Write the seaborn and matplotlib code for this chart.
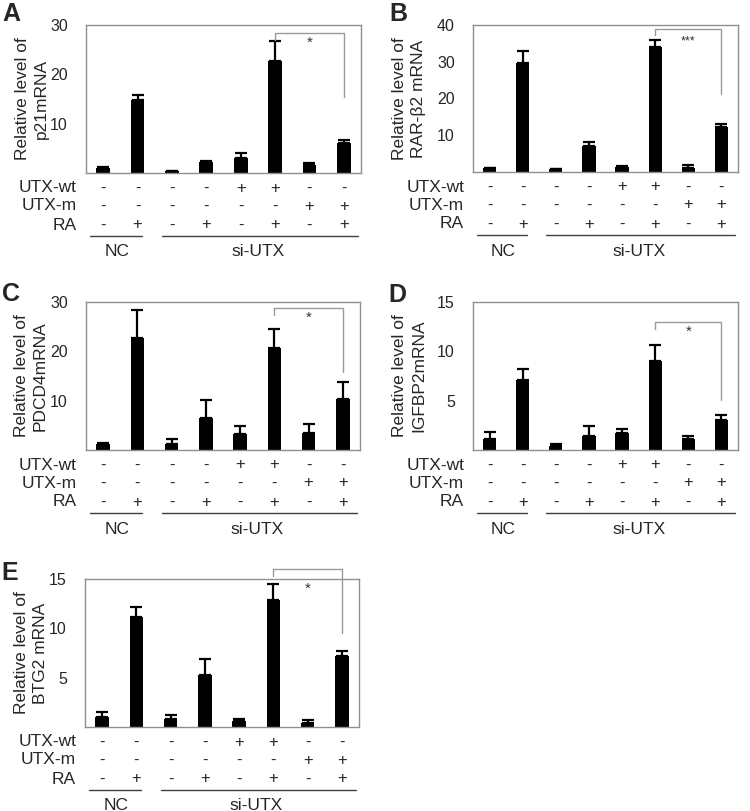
import matplotlib

matplotlib.use("Agg")
import matplotlib.pyplot as plt
import numpy as np
import pandas as pd
import seaborn as sns

# Conditions (8 bars per panel)
conditions = ["NC", "NC+RA", "si", "si+RA", "wt", "wt+RA", "m", "m+RA"]
utx_wt = ["-", "-", "-", "-", "+", "+", "-", "-"]
utx_m = ["-", "-", "-", "-", "-", "-", "+", "+"]
ra = ["-", "+", "-", "+", "-", "+", "-", "+"]

# Panel A: p21
p21_mean = [1.0, 14.8, 0.4, 2.3, 3.1, 22.8, 1.7, 6.1]
p21_err = [0.3, 1.0, 0.1, 0.2, 0.9, 4.0, 0.3, 0.5]
# Panel B: RAR-beta2
rarb2_mean = [1.0, 29.7, 0.8, 7.1, 1.3, 34.1, 1.2, 12.2]
rarb2_err = [0.2, 3.3, 0.1, 1.1, 0.2, 1.8, 0.6, 0.9]
# Panel C: PDCD4
pdcd4_mean = [1.2, 22.8, 1.2, 6.4, 3.3, 20.6, 3.5, 10.3]
pdcd4_err = [0.3, 5.6, 1.1, 3.8, 1.6, 3.9, 1.7, 3.4]
# Panel D: IGFBP2
igfbp2_mean = [1.1, 7.1, 0.45, 1.45, 1.7, 9.0, 1.1, 3.0]
igfbp2_err = [0.7, 1.1, 0.2, 0.95, 0.4, 1.6, 0.35, 0.5]
# Panel E: BTG2
btg2_mean = [1.05, 11.1, 0.8, 5.3, 0.6, 12.9, 0.45, 7.2]
btg2_err = [0.45, 1.1, 0.45, 1.6, 0.2, 1.6, 0.25, 0.5]

# significance brackets: (top, left end, right end, star y)
p21_sig = (28.45, 27.0, 15.4, 26.4)
rarb2_sig = (39.0, 37.3, 21.2, 35.5)
pdcd4_sig = (28.8, 27.4, 15.9, 26.8)
igfbp2_sig = (13.0, 12.3, 5.1, 12.0)
btg2_sig = (16.0, 15.3, 9.5, 14.0)

W, H = 750, 811

sns.set_style("white")
plt.rcParams["font.family"] = ["Liberation Sans", "DejaVu Sans"]

fig = plt.figure(figsize=(W / 100, H / 100), dpi=100)

panels = [
    # letter, mean, err, sig, ylabel, ymax, ticks, (l, r, t, b) px, letter xy px, ylabel offset px, stars
    ("A", p21_mean, p21_err, p21_sig, "Relative level of\np21mRNA", 30, [10, 20, 30],
     (86, 361, 25, 173), (2, 14), -37, "*"),
    ("B", rarb2_mean, rarb2_err, rarb2_sig, "Relative level of\nRAR-β2 mRNA", 40, [10, 20, 30, 40],
     (473, 738, 25, 172), (389, 14), -47, "***"),
    ("C", pdcd4_mean, pdcd4_err, pdcd4_sig, "Relative level of\nPDCD4mRNA", 30, [10, 20, 30],
     (86, 360, 302, 450), (2, 294), -38, "*"),
    ("D", igfbp2_mean, igfbp2_err, igfbp2_sig, "Relative level of\nIGFBP2mRNA", 15, [5, 10, 15],
     (473, 738, 302, 450), (388, 295), -47, "*"),
    ("E", btg2_mean, btg2_err, btg2_sig, "Relative level of\nBTG2 mRNA", 15, [5, 10, 15],
     (85, 359, 579, 727), (1, 573), -37, "*"),
]

for letter, mean, err, sig, ylabel, ymax, ticks, box, lxy, ylo, stars in panels:
    l, r, t, b = box
    ax = fig.add_axes([l / W, 1 - b / H, (r - l) / W, (b - t) / H])
    df = pd.DataFrame({"cond": conditions, "value": mean})
    sns.barplot(data=df, x="cond", y="value", color="black", saturation=1,
                width=0.4, errorbar=None, ax=ax, zorder=2,
                edgecolor="black", linewidth=0)
    x = np.arange(len(mean))
    ax.errorbar(x, mean, yerr=[np.zeros(len(err)), err], fmt="none", ecolor="black",
                elinewidth=1.6, capsize=4, capthick=1.6, zorder=1)
    ax.set_xlim(-0.5, 7.5)
    ax.set_ylim(0, ymax)
    ax.set_yticks(ticks)
    ax.set_yticklabels([str(v) for v in ticks], fontsize=11.5)
    ax.tick_params(axis="y", length=0, pad=13)
    ax.set_xticks([])
    ax.set_xlabel("")
    for s in ax.spines.values():
        s.set_visible(True)
        s.set_color("#8f8f8f")
        s.set_linewidth(1.0)
    ax.set_ylabel(ylabel, fontsize=12.5, linespacing=1.3)
    ax.yaxis.set_label_coords(ylo / (r - l), 0.5)

    # significance bracket
    top, lend, rend, sy = sig
    ax.plot([5, 5, 7, 7], [lend, top, top, rend], color="#9a9a9a", lw=1.0,
            clip_on=False, zorder=3)
    ax.text(6, sy, stars, ha="center", va="center",
            fontsize=11 if stars == "*" else 9, color="#333333")

    # condition rows under the axis
    rows = [("UTX-wt", utx_wt, -15), ("UTX-m", utx_m, -33), ("RA", ra, -52)]
    for name, signs, dy in rows:
        ax.annotate(name, xy=(0, 0), xycoords="axes fraction", xytext=(-9, dy),
                    textcoords="offset pixels", ha="right", va="center", fontsize=12.5)
        for i, sgn in enumerate(signs):
            ax.annotate(sgn, xy=(i, 0), xycoords=("data", "axes fraction"),
                        xytext=(0, dy), textcoords="offset pixels",
                        ha="center", va="center", fontsize=12)
    # group lines and labels
    line_y = -63 / (b - t)
    for x0, x1, xc, name in [(-0.38, 1.13, 0.4, "NC"), (1.71, 7.41, 4.5, "si-UTX")]:
        ax.plot([x0, x1], [line_y, line_y], transform=ax.get_xaxis_transform(),
                color="#404040", lw=1.0, clip_on=False)
        ax.annotate(name, xy=(xc, 0), xycoords=("data", "axes fraction"),
                    xytext=(0, -79), textcoords="offset pixels",
                    ha="center", va="center", fontsize=12.5)

    fig.text(lxy[0] / W, 1 - lxy[1] / H, letter, fontsize=18, fontweight="bold",
             ha="left", va="center")

fig.savefig("out.png", dpi=100)
